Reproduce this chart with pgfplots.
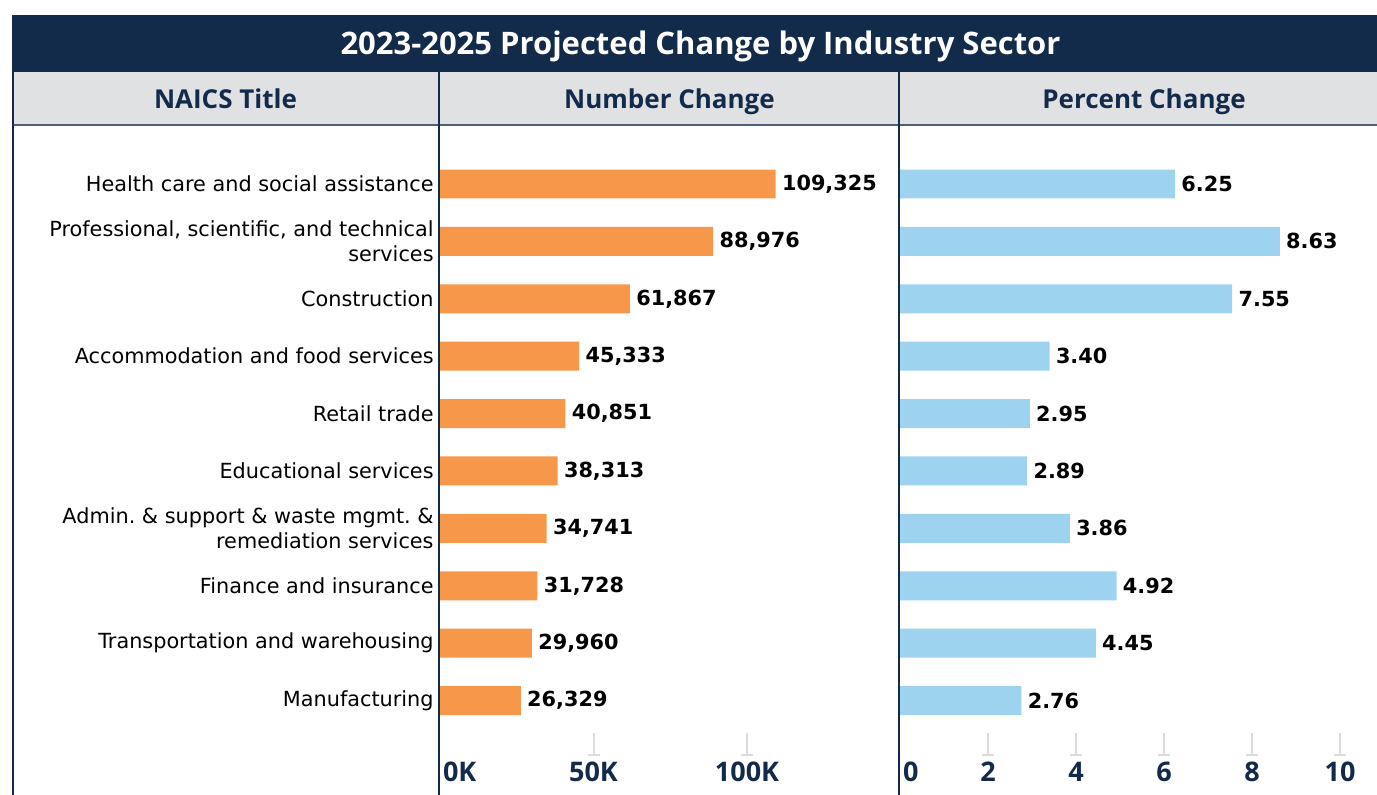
\documentclass[border=0pt]{standalone}
\usepackage{pgfplots}
\usepackage{pgfplotstable}
\pgfplotsset{compat=1.18}
\usepackage{fontspec}
\setmainfont{DejaVu Sans}
\newfontfamily\osans{Open Sans}
\definecolor{navy}{HTML}{132B4B}
\definecolor{hdr}{HTML}{E0E1E3}
\definecolor{barO}{HTML}{F7974A}
\definecolor{barB}{HTML}{9DD3EE}
\definecolor{tk}{HTML}{DCDCDC}

\pgfplotstableread{
idx num pct
0 109325 6.25
1 88976 8.63
2 61867 7.55
3 45333 3.40
4 40851 2.95
5 38313 2.89
6 34741 3.86
7 31728 4.92
8 29960 4.45
9 26329 2.76
}\data

\pgfplotsset{
  panel/.style={
    scale only axis, height=314.5pt,
    xbar, ymin=-9.948, ymax=1.0105, xmin=0,
    scaled x ticks=false,
    axis line style={draw=none},
    xtick pos=lower, tick align=inside,
    x tick style={tk, line width=1pt},
    major tick length=11pt,
    y tick style={draw=none},
    xticklabel style={font=\osans\bfseries\fontsize{13.5}{16}\selectfont, text=navy},
    extra x tick style={major tick length=0pt, x tick style={draw=none}, xticklabel style={anchor=north west, xshift=-2pt}},
    /pgf/number format/assume math mode=true,
    clip=false,
  }
}

\begin{document}
\begin{tikzpicture}
\useasboundingbox (0,0) rectangle (688.5pt,-397.5pt);
% frame
\fill[navy] (6pt,-7.5pt) rectangle (688.5pt,-36pt);
\fill[hdr] (6pt,-36pt) rectangle (688.5pt,-62.5pt);
\draw[navy!75, line width=1pt] (6.5pt,-62.5pt) -- (688.5pt,-62.5pt);
\node[anchor=base, text=white, font=\osans\bfseries\fontsize{15.5}{18}\selectfont] at (350.25pt,-27.5pt) {2023-2025 Projected Change by Industry Sector};
\node[anchor=base, text=navy, font=\osans\bfseries\fontsize{13}{16}\selectfont] at (112.75pt,-54.5pt) {NAICS Title};
\node[anchor=base, text=navy, font=\osans\bfseries\fontsize{13}{16}\selectfont] at (334.75pt,-54.5pt) {Number Change};
\node[anchor=base, text=navy, font=\osans\bfseries\fontsize{13}{16}\selectfont] at (572pt,-54.5pt) {Percent Change};

\begin{axis}[panel, at={(220pt,-377.5pt)}, anchor=south west, width=229.5pt,
  xmax=149500,
  xtick={50000,100000}, xticklabels={50K,100K},
  extra x ticks={0}, extra x tick labels={0K},
  ytick={-9,...,0},
  yticklabels={Manufacturing, Transportation and warehousing, Finance and insurance, {Admin.\ \& support \& waste mgmt.\ \&\\remediation services}, Educational services, Retail trade, Accommodation and food services, Construction, {Professional, scientific, and technical\\services}, Health care and social assistance},
  yticklabel style={align=right, font=\fontsize{10.4}{12.5}\selectfont, text=black, inner sep=3pt},
]
\addplot[fill=barO, draw=none, bar width=0.505, point meta=x,
  nodes near coords={\pgfmathprintnumber[fixed,precision=0,1000 sep={,}]{\pgfplotspointmeta}},
  nodes near coords style={font=\bfseries\fontsize{10.4}{12}\selectfont, text=black, anchor=west, inner sep=3pt}]
  table[x=num, y expr=-\thisrow{idx}] {\data};
\pgfplotsinvokeforeach{50000,100000}{
  \draw[tk, line width=1pt] ([xshift=-3pt]axis cs:#1,-9.948) -- ([xshift=3pt]axis cs:#1,-9.948);
}
\end{axis}

\begin{axis}[panel, at={(450pt,-377.5pt)}, anchor=south west, width=238.5pt,
  xmax=10.84,
  xtick={2,4,6,8,10},
  extra x ticks={0}, extra x tick labels={0},
  ytick=\empty,
]
\addplot[fill=barB, draw=none, bar width=0.505, point meta=x,
  nodes near coords={\pgfmathprintnumber[fixed,fixed zerofill,precision=2]{\pgfplotspointmeta}},
  nodes near coords style={font=\bfseries\fontsize{10.4}{12}\selectfont, text=black, anchor=west, inner sep=3pt}]
  table[x=pct, y expr=-\thisrow{idx}] {\data};
\pgfplotsinvokeforeach{2,4,6,8,10}{
  \draw[tk, line width=1pt] ([xshift=-3pt]axis cs:#1,-9.948) -- ([xshift=3pt]axis cs:#1,-9.948);
}
\end{axis}

% dividers
\draw[navy, line width=1pt] (6.5pt,-36pt) -- (6.5pt,-397.5pt);
\draw[navy, line width=1pt] (219.5pt,-36pt) -- (219.5pt,-397.5pt);
\draw[navy, line width=1pt] (449.5pt,-36pt) -- (449.5pt,-397.5pt);
\end{tikzpicture}
\end{document}
